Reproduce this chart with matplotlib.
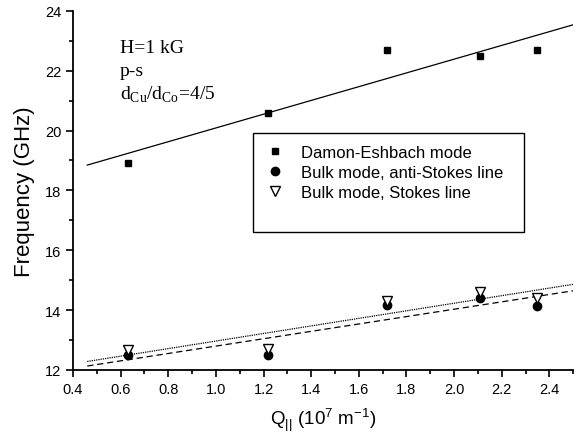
import numpy as np
import matplotlib
matplotlib.use("Agg")
import matplotlib.pyplot as plt
from matplotlib.lines import Line2D
from matplotlib.ticker import MultipleLocator

q = [0.63, 1.22, 1.72, 2.11, 2.35]
f_de = [18.9, 20.6, 22.7, 22.5, 22.7]
f_anti = [12.5, 12.5, 14.18, 14.4, 14.14]
f_stokes = [12.67, 12.7, 14.3, 14.59, 14.4]
fit_range = [0.46, 2.5]

plt.rcParams['font.family'] = ['Liberation Sans', 'DejaVu Sans']
plt.rcParams['mathtext.fontset'] = 'custom'
plt.rcParams['mathtext.rm'] = 'Liberation Sans'

fig = plt.figure(figsize=(5.79, 4.39), dpi=100)
ax = fig.add_axes([0.126, 0.155, 0.864, 0.818])

# linear fits
xf = np.array(fit_range)
for ys, ls in [(f_de, '-'), (f_anti, (0, (5, 3))), (f_stokes, (0, (1, 0.8)))]:
    k, b = np.polyfit(q, ys, 1)
    ax.plot(xf, k * xf + b, color='black', lw=0.9, ls=ls)

ax.plot(q, f_de, 's', color='black', ms=5, label='Damon-Eshbach mode')
ax.plot(q, f_anti, 'o', color='black', ms=6, label='Bulk mode, anti-Stokes line')
ax.plot(q, f_stokes, 'v', mfc='white', mec='black', mew=1, ms=6.5,
        label='Bulk mode, Stokes line')

ax.set_xlim(0.4, 2.5)
ax.set_ylim(12, 24)
ax.xaxis.set_major_locator(MultipleLocator(0.2))
ax.xaxis.set_minor_locator(MultipleLocator(0.1))
ax.yaxis.set_major_locator(MultipleLocator(2))
ax.yaxis.set_minor_locator(MultipleLocator(1))
ax.tick_params(which='both', direction='out', width=1.2, labelsize=10.5)
ax.tick_params(which='major', length=5)
ax.tick_params(which='minor', length=3)
ax.spines['top'].set_visible(False)
ax.spines['right'].set_visible(False)
ax.spines['left'].set_linewidth(1.3)
ax.spines['bottom'].set_linewidth(1.3)

ax.set_xlabel(r'Q$_{\mathregular{||}}$ (10$^{\mathregular{7}}$ m$^{\mathregular{-1}}$)',
              fontsize=13.5, labelpad=7)
ax.set_ylabel('Frequency (GHz)', fontsize=16, labelpad=7)

serif = dict(family='Liberation Serif', fontsize=14, va='baseline')
ax.text(0.598, 22.63, 'H=1 kG', **serif)
ax.text(0.598, 21.86, 'p-s', **serif)
ax.text(0.598, 21.06, r'd$_{\mathregular{Cu}}$/d$_{\mathregular{Co}}$=4/5', **serif)

handles, labels = ax.get_legend_handles_labels()
handles.append(Line2D([], [], linestyle='none'))
labels.append(' ')
leg = ax.legend(handles, labels, loc='upper left',
                bbox_to_anchor=(0.36, 0.66, 0.542, 0.0), mode='expand',
                borderaxespad=0, fontsize=12, frameon=True, fancybox=False,
                edgecolor='black', framealpha=1, handletextpad=0.99,
                borderpad=0.72, labelspacing=0.3, handlelength=1.14)
leg.get_frame().set_linewidth(1.0)

fig.savefig('out.png', dpi=100)
